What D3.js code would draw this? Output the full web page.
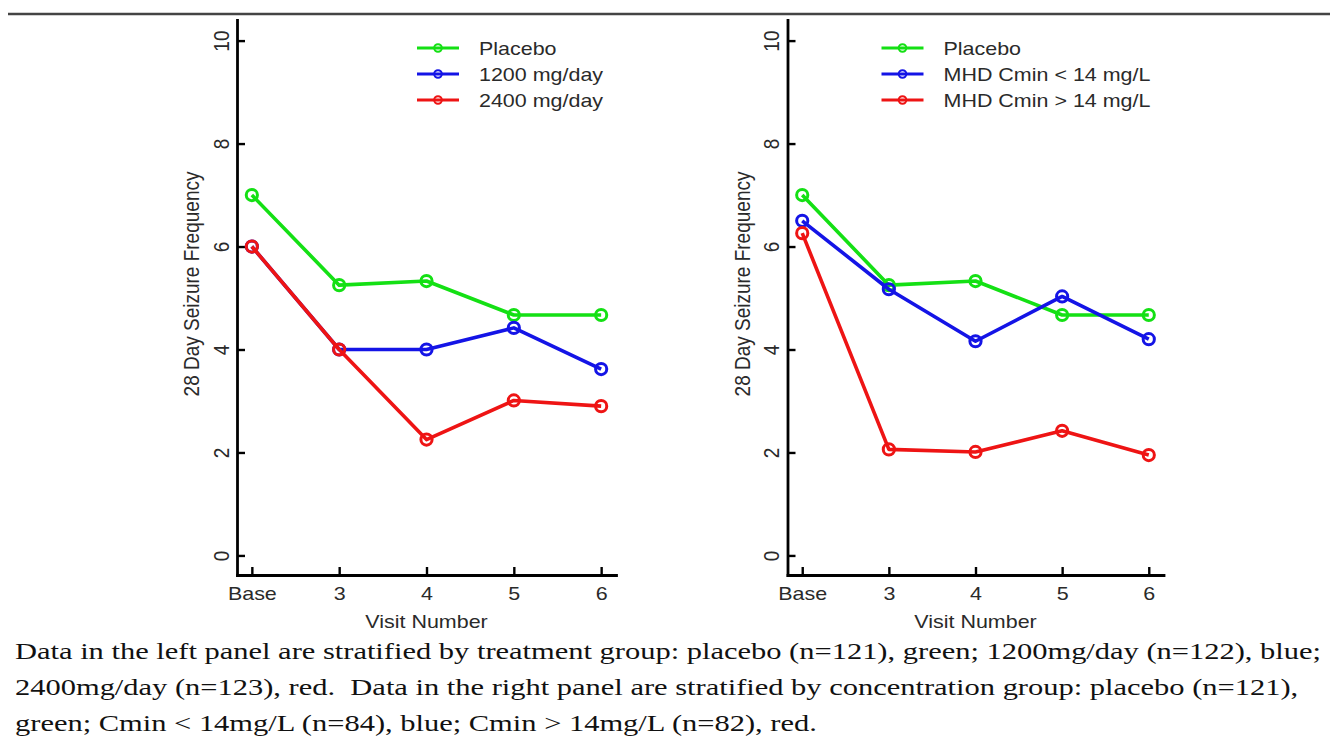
<!DOCTYPE html>
<html>
<head>
<meta charset="utf-8">
<script src="https://cdn.jsdelivr.net/npm/d3@7"></script>
<style>
  body { margin: 0; background: #fff; }
  svg { display: block; }
</style>
</head>
<body>
<svg id="fig" width="1330" height="738"></svg>
<script>
// Visits on the x axis and the y tick values
const visits = ["Base", "3", "4", "5", "6"];
const yTicks = [0, 2, 4, 6, 8, 10];

// Left panel: mean 28-day seizure frequency by treatment group
const placeboLeft = [7.0, 5.25, 5.33, 4.67, 4.67];
const dose1200 = [6.0, 4.0, 4.0, 4.42, 3.62];
const dose2400 = [6.0, 4.0, 2.25, 3.01, 2.90];
const leftLabels = ["Placebo", "1200 mg/day", "2400 mg/day"];

// Right panel: by MHD trough concentration group
const placeboRight = [7.0, 5.25, 5.33, 4.67, 4.67];
const cminLow = [6.5, 5.17, 4.16, 5.03, 4.2];
const cminHigh = [6.26, 2.06, 2.01, 2.42, 1.95];
const rightLabels = ["Placebo", "MHD Cmin < 14 mg/L", "MHD Cmin > 14 mg/L"];

const seriesColors = ["#14e014", "#1414e6", "#ee1414"];
const yTitle = "28 Day Seizure Frequency";
const xTitle = "Visit Number";

const captionLines = [
  "Data in the left panel are stratified by treatment group: placebo (n=121), green; 1200mg/day (n=122), blue;",
  "2400mg/day (n=123), red.  Data in the right panel are stratified by concentration group: placebo (n=121),",
  "green; Cmin < 14mg/L (n=84), blue; Cmin > 14mg/L (n=82), red."
];

const svg = d3.select("#fig");
const SANS = "'Liberation Sans', Arial, Helvetica, sans-serif";
const SERIF = "'Liberation Serif', 'Times New Roman', serif";
const SX = 1.13;          // figure glyphs run slightly wide
const CAP_SX = 1.27;      // caption glyphs run wider still
const FS = 19;
const TEXT = "#2a2a2a";

// rule above the figure
svg.append("line")
  .attr("x1", 8).attr("x2", 1330).attr("y1", 14).attr("y2", 14)
  .attr("stroke", "#444").attr("stroke-width", 2.5);

const panels = [
  { x0: 237, x1: 616, legendX: 417, series: [placeboLeft, dose1200, dose2400], labels: leftLabels },
  { x0: 787.5, x1: 1163.5, legendX: 881.5, series: [placeboRight, cminLow, cminHigh], labels: rightLabels }
];

panels.forEach(p => {
  const g = svg.append("g");
  const x = d3.scaleLinear().domain([-0.17, 4.17]).range([p.x0, p.x1]);
  const y = d3.scaleLinear().domain([-0.38, 10.4]).range([575, 20]);

  // y axis, ticks pointing inward, rotated labels
  const ya = g.append("g").attr("transform", `translate(${p.x0},0)`)
    .call(d3.axisLeft(y).tickValues(yTicks).tickFormat(d3.format("d"))
      .tickSize(-8).tickSizeOuter(0).tickPadding(16));
  ya.selectAll("text")
    .attr("x", null).attr("y", null)
    .attr("transform", `translate(-16,0) scale(${SX},1) rotate(-90)`)
    .attr("dy", "0.35em").attr("text-anchor", "middle");

  // x axis
  const xa = g.append("g").attr("transform", "translate(0,575)")
    .call(d3.axisBottom(x).tickValues(d3.range(visits.length)).tickFormat(i => visits[i])
      .tickSize(-8).tickSizeOuter(0));
  xa.selectAll("text")
    .attr("x", null).attr("y", null)
    .attr("transform", `translate(0,18.5) scale(${SX},1)`)
    .attr("dy", "0.35em").attr("text-anchor", "middle");

  [ya, xa].forEach(a => {
    a.attr("font-family", SANS).attr("font-size", FS);
    a.selectAll("text").attr("fill", TEXT);
    a.select(".domain").attr("stroke", "#000").attr("stroke-width", 2.8).attr("stroke-linecap", "square");
    a.selectAll(".tick line").attr("stroke", "#000").attr("stroke-width", 2.4);
  });

  // axis titles
  g.append("text")
    .attr("transform", `translate(${x(2)},621) scale(${SX},1)`)
    .attr("dy", "0.35em").attr("text-anchor", "middle")
    .attr("font-family", SANS).attr("font-size", FS).attr("fill", TEXT)
    .text(xTitle);
  g.append("text")
    .attr("transform", `translate(${p.x0 - 45.5},284) scale(${SX},1) rotate(-90)`)
    .attr("dy", "0.35em").attr("text-anchor", "middle")
    .attr("font-family", SANS).attr("font-size", FS).attr("fill", TEXT)
    .text(yTitle);

  // series lines with open circle markers
  const line = d3.line().x((d, i) => x(i)).y(d => y(d));
  p.series.forEach((vals, k) => {
    const s = g.append("g");
    s.append("path").datum(vals)
      .attr("d", line).attr("fill", "none")
      .attr("stroke", seriesColors[k]).attr("stroke-width", 3.6)
      .attr("stroke-linejoin", "round");
    s.selectAll("circle").data(vals).join("circle")
      .attr("cx", (d, i) => x(i)).attr("cy", d => y(d)).attr("r", 5.6)
      .attr("fill", "none").attr("stroke", seriesColors[k]).attr("stroke-width", 3);
  });

  // legend
  const lg = g.append("g");
  p.labels.forEach((lab, k) => {
    const ry = 48 + k * 26;
    lg.append("line")
      .attr("x1", p.legendX).attr("x2", p.legendX + 42).attr("y1", ry).attr("y2", ry)
      .attr("stroke", seriesColors[k]).attr("stroke-width", 3);
    lg.append("circle")
      .attr("cx", p.legendX + 21).attr("cy", ry).attr("r", 3.8)
      .attr("fill", "none").attr("stroke", seriesColors[k]).attr("stroke-width", 2);
    lg.append("text")
      .attr("transform", `translate(${p.legendX + 62},${ry}) scale(${SX},1)`)
      .attr("dy", "0.35em")
      .attr("font-family", SANS).attr("font-size", FS).attr("fill", TEXT)
      .text(lab);
  });
});

// caption below the figure
svg.append("g").selectAll("text").data(captionLines).join("text")
  .attr("transform", (d, i) => `translate(15,${658.5 + i * 36}) scale(${CAP_SX},1)`)
  .attr("font-family", SERIF).attr("font-size", 24).attr("fill", "#111")
  .style("white-space", "pre")
  .text(d => d);
</script>
</body>
</html>
